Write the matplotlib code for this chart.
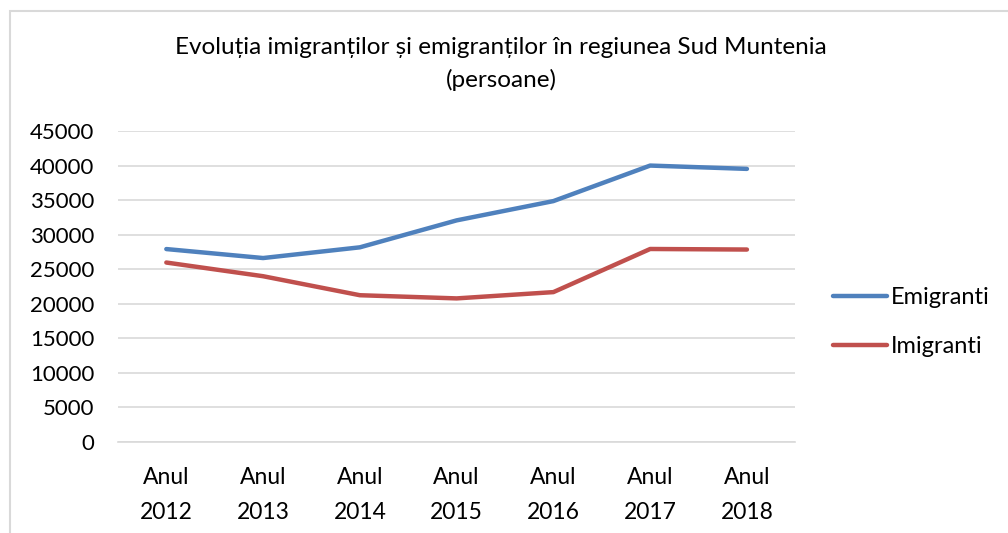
import matplotlib.pyplot as plt
from matplotlib.patches import Rectangle

plt.rcParams["font.family"] = ["Lato", "DejaVu Sans"]

years = ["Anul\n2012", "Anul\n2013", "Anul\n2014", "Anul\n2015", "Anul\n2016", "Anul\n2017", "Anul\n2018"]
emigranti = [27920, 26620, 28170, 32070, 34860, 40000, 39520]
imigranti = [25970, 23990, 21240, 20780, 21690, 27930, 27850]
y_ticks = list(range(0, 45001, 5000))

BLUE = "#4f81bd"
RED = "#c0504d"
GRID = "#d9d9d9"

fig = plt.figure(figsize=(10.08, 5.33), dpi=100)
fig.patches.append(Rectangle((10 / 1008, -0.1), 1.2, 1.1 - 11 / 533, transform=fig.transFigure,
                             fill=False, edgecolor=GRID, linewidth=1.5))

ax = fig.add_axes([0.117, 0.1707, 0.672, 0.5835])
x = range(len(years))
ax.plot(x, emigranti, color=BLUE, linewidth=3.2, solid_capstyle="round", label="Emigranti")
ax.plot(x, imigranti, color=RED, linewidth=3.2, solid_capstyle="round", label="Imigranti")

ax.set_xlim(-0.5, len(years) - 0.5)
ax.set_ylim(0, 45000)
ax.set_yticks(y_ticks)
ax.set_yticklabels([str(v) for v in y_ticks], fontsize=16)
ax.set_xticks(list(x))
ax.set_xticklabels(years, fontsize=16.5, linespacing=1.85)
ax.tick_params(axis="both", length=0)
ax.tick_params(axis="x", pad=18)
ax.tick_params(axis="y", pad=17)
ax.grid(axis="y", color=GRID, linewidth=1.2)
ax.set_axisbelow(True)
for side in ["top", "right", "left"]:
    ax.spines[side].set_visible(False)
ax.spines["bottom"].set_color(GRID)
ax.spines["bottom"].set_linewidth(1.2)

fig.text(0.497, 0.91, "Evoluția imigranților și emigranților în regiunea Sud Muntenia",
         ha="center", va="center", fontsize=17.5)
fig.text(0.497, 0.85, "(persoane)", ha="center", va="center", fontsize=17.5)

fig.legend(loc="center left", bbox_to_anchor=(0.805, 0.396), frameon=False, fontsize=17,
           handlelength=2.3, handletextpad=0.15, labelspacing=1.2)

fig.savefig("out.png", dpi=100)
